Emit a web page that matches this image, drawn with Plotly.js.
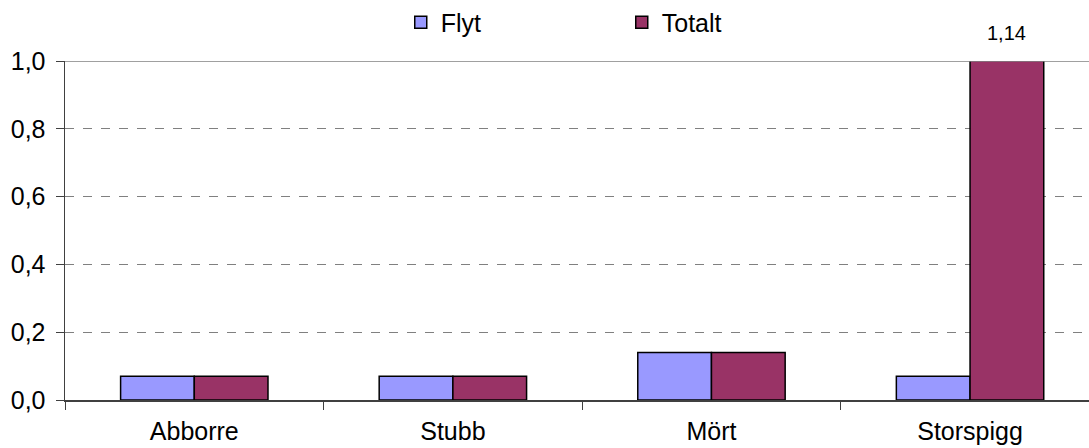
<!DOCTYPE html>
<html>
<head>
<meta charset="utf-8">
<script src="https://cdn.plot.ly/plotly-3.0.1.min.js"></script>
<style>html,body{margin:0;padding:0;overflow:hidden;background:#fff}</style>
</head>
<body>
<div id="chart" style="width:1089px;height:448px"></div>
<script>
const categories = ["Abborre", "Stubb", "Mört", "Storspigg"];
const flyt = [0.07, 0.07, 0.14, 0.07];
const totalt = [0.07, 0.07, 0.14, 1.14];
const seriesNames = ["Flyt", "Totalt"];
const yTicks = [0, 0.2, 0.4, 0.6, 0.8, 1.0];

const font = "'Liberation Sans', Arial, sans-serif";
const bargap = 0.43;

const traces = [
  {type: "bar", name: seriesNames[0], x: categories, y: flyt,
   marker: {color: "#9999FF", line: {color: "#000", width: 1.5}}, hoverinfo: "none"},
  {type: "bar", name: seriesNames[1], x: categories, y: totalt,
   marker: {color: "#993366", line: {color: "#000", width: 1.5}}, hoverinfo: "none"}
];

// labels for values exceeding the axis range
const annotations = [];
totalt.forEach((v, i) => {
  if (v > yTicks[yTicks.length - 1]) {
    annotations.push({
      x: i + (1 - bargap) / 4, xref: "x", y: 1, yref: "y",
      yanchor: "bottom", yshift: 15, showarrow: false,
      text: v.toFixed(2).replace(".", ","),
      font: {family: font, size: 20, color: "#000"}
    });
  }
});

const layout = {
  width: 1089, height: 448,
  margin: {l: 65, r: 0, t: 61, b: 48, autoexpand: false},
  paper_bgcolor: "#fff", plot_bgcolor: "#fff",
  barmode: "group", bargap: bargap, bargroupgap: 0,
  separators: ", ",
  font: {family: font, size: 25, color: "#000"},
  showlegend: true,
  legend: {orientation: "h", xref: "container", yref: "container",
           x: 0.368, y: 0.95, xanchor: "left", yanchor: "middle",
           entrywidth: 176, entrywidthmode: "pixels", traceorder: "normal",
           font: {family: font, size: 25, color: "#000"}},
  xaxis: {type: "category", range: [-0.5, 3.46], tickson: "boundaries",
          ticks: "outside", ticklen: 8, tickcolor: "#404040", tickwidth: 1,
          ticklabelstandoff: 8,
          showline: true, linecolor: "#404040", linewidth: 1.5,
          showgrid: false, zeroline: false, fixedrange: true,
          tickfont: {family: font, size: 25, color: "#000"}},
  yaxis: {range: [0, 1.0], tickvals: yTicks, tickformat: ".1f",
          ticks: "outside", ticklen: 8, tickcolor: "#404040",
          ticklabelstandoff: 5,
          showline: true, linecolor: "#404040", linewidth: 1.5,
          showgrid: true, gridcolor: "#808080", griddash: "dash", gridwidth: 1,
          zeroline: false, fixedrange: true,
          tickfont: {family: font, size: 25, color: "#000"}},
  shapes: [{type: "line", xref: "paper", x0: 0, x1: 1, yref: "y", y0: 1, y1: 1,
            line: {color: "#808080", width: 1.5}}],
  annotations: annotations
};

Plotly.newPlot("chart", traces, layout, {displayModeBar: false, staticPlot: true});
</script>
</body>
</html>
